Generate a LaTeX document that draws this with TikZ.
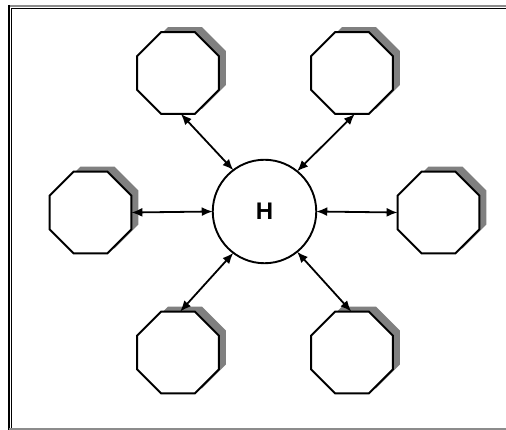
\documentclass[tikz,border=0pt]{standalone}
\usepackage{fontspec}
\setmainfont{Liberation Sans}
\usetikzlibrary{shapes.geometric,arrows.meta,calc}

\tikzset{
  octa/.style={regular polygon, regular polygon sides=8, minimum size=88.5pt,
    inner sep=0pt, outer sep=0pt, draw=black, line width=1.9pt, fill=white},
  octashadow/.style={regular polygon, regular polygon sides=8, minimum size=88.5pt,
    inner sep=0pt, outer sep=0pt, fill=black!50},
  hub/.style={circle, minimum size=103.5pt, inner sep=0pt, outer sep=0pt,
    draw=black, line width=1.9pt, fill=white,
    font=\fontsize{24}{28}\selectfont\bfseries},
  link/.style={line width=1.8pt, {Latex[length=11pt,width=9pt]}-{Latex[length=11pt,width=9pt]}}
}

\begin{document}
\begin{tikzpicture}[x=1pt,y=-1pt]
  \useasboundingbox (0,0) rectangle (506,430);

  % page frame
  \draw[black!45, line width=2pt] (9,6) -- (506,6);
  \draw[black, line width=1pt] (11.5,8.5) -- (506,8.5);
  \draw[black, line width=1.6pt] (9,5) -- (9,430);
  \draw[black, line width=1pt] (11.5,8.5) -- (11.5,430);
  \draw[black!45, line width=1.6pt] (9,429) -- (506,429);

  % shadows behind the octagons
  \foreach \nm/\px/\py in {tl/178/73, tr/352/73, l/90.5/212.5, r/438.5/212.5, bl/178/352.5, br/352/352.5}{
    \node[octashadow] (\nm-sh) at (\px+7,\py-5) {};
  }

  % octagons
  \node[octa] (tl) at (178,73) {};
  \node[octa] (tr) at (352,73) {};
  \node[octa] (l)  at (90.5,212.5) {};
  \node[octa] (r)  at (438.5,212.5) {};
  \node[octa] (bl) at (178,352.5) {};
  \node[octa] (br) at (352,352.5) {};

  % central hub
  \node[hub] (c) at (264.5,211.5) {H};

  % links
  \draw[link] (tl.-86) -- (c.127);
  \draw[link] (tr.-86) -- (c.51);
  \draw[link] (l.east) -- (c.west);
  \draw[link] (c.east) -- (r.west);
  \draw[link] (c.-127) -- (bl.87);
  \draw[link] (c.-51) -- (br.91);
\end{tikzpicture}
\end{document}
